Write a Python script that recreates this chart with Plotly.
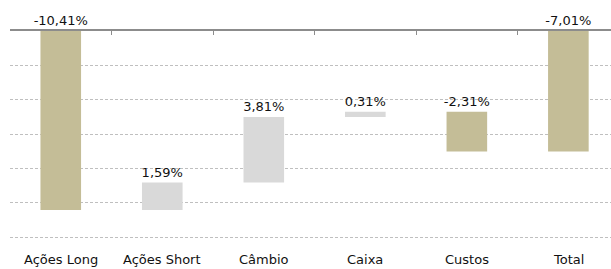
import plotly.graph_objects as go

categories = ["Ações Long", "Ações Short", "Câmbio", "Caixa", "Custos", "Total"]
changes = [-10.41, 1.59, 3.81, 0.31, -2.31, -7.01]
labels = ["-10,41%", "1,59%", "3,81%", "0,31%", "-2,31%", "-7,01%"]
is_total = [False, False, False, False, False, True]

NEG = "#C4BD97"
POS = "#D9D9D9"

bases, heights, colors = [], [], []
level = 0.0
for c, tot in zip(changes, is_total):
    if tot:
        start, end = 0.0, c
    else:
        start, end = level, level + c
        level = end
    bases.append(min(start, end))
    heights.append(abs(end - start))
    colors.append(NEG if c < 0 else POS)

FONT = dict(family="DejaVu Sans", size=13, color="#111111")

fig = go.Figure()
fig.add_trace(go.Bar(
    x=categories, y=heights, base=bases,
    marker=dict(color=colors, line=dict(width=0)),
    width=0.40,
    text=labels, textposition="outside",
    textfont=FONT, constraintext="none",
    cliponaxis=False,
    hoverinfo="skip",
))

for cat in categories:
    fig.add_annotation(x=cat, y=0, xref="x", yref="paper", text=cat,
                       showarrow=False, yanchor="top", yshift=-11,
                       font=FONT)

fig.update_layout(
    width=611, height=269,
    margin=dict(l=10, r=0, t=31, b=30, autoexpand=False),
    paper_bgcolor="white", plot_bgcolor="white",
    showlegend=False,
    xaxis=dict(side="top", type="category", range=[-0.5, 5.42],
               showline=True, linecolor="#8c8c8c", linewidth=1.5,
               ticks="inside", ticklen=4, tickcolor="#8c8c8c",
               tickson="boundaries", showticklabels=False,
               showgrid=False, fixedrange=True, automargin=False),
    yaxis=dict(range=[-12.1, 0], dtick=2, tick0=0,
               showgrid=True, gridcolor="#bfbfbf", griddash="3px,2px",
               gridwidth=1, zeroline=False, showticklabels=False,
               showline=False, fixedrange=True, automargin=False),
)

fig.write_html("out.html", config={"displayModeBar": False},
               post_script="document.body.style.margin='0';document.body.style.overflow='hidden';")
